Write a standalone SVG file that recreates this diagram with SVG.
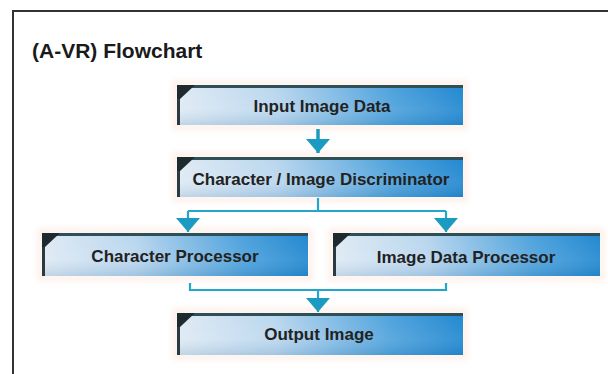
<svg xmlns="http://www.w3.org/2000/svg" width="608" height="374" viewBox="0 0 608 374">
  <defs>
    <linearGradient id="boxfill" x1="0" y1="0" x2="1" y2="0">
      <stop offset="0" stop-color="#dfeaf4"/>
      <stop offset="0.35" stop-color="#b9d6ee"/>
      <stop offset="0.75" stop-color="#4ea2dc"/>
      <stop offset="1" stop-color="#2288d0"/>
    </linearGradient>
    <linearGradient id="shade" x1="0" y1="0" x2="0" y2="1">
      <stop offset="0" stop-color="#ffffff" stop-opacity="0"/>
      <stop offset="0.6" stop-color="#ffffff" stop-opacity="0.08"/>
      <stop offset="1" stop-color="#1b5f96" stop-opacity="0.15"/>
    </linearGradient>
    <filter id="glow" x="-10%" y="-30%" width="120%" height="160%">
      <feGaussianBlur stdDeviation="3"/>
    </filter>
    <marker id="ah" viewBox="0 0 14 24" refX="14" refY="12" markerWidth="14" markerHeight="24" markerUnits="userSpaceOnUse" orient="auto">
      <path d="M0 0 L14 12 L0 24 Z" fill="#1b9bc2"/>
    </marker>
  </defs>
  <style>
    .frame { fill: none; stroke: #333; stroke-width: 2; }
    .title { font-family: "Liberation Sans", Arial, sans-serif; font-weight: bold; font-size: 21px; fill: #1a1a1a; }
    .lbl { font-family: "Liberation Sans", Arial, sans-serif; font-weight: bold; font-size: 17px; fill: #222; text-anchor: middle; }
    .box { fill: url(#boxfill); }
    .shade { fill: url(#shade); }
    .halo { fill: none; stroke: #f6c9b4; stroke-width: 3; opacity: 0.55; filter: url(#glow); }
    .topedge { fill: #2f4f57; }
    .leftedge { fill: #2a3a40; }
    .corner { fill: #1e2a2e; }
    .conn { fill: none; stroke: #22a6cb; stroke-width: 2.2; }
    .stem { fill: none; stroke: #1b9bc2; stroke-width: 3.5; }
  </style>

  <rect class="frame" x="13" y="11" width="620" height="380"/>
  <text class="title" x="32" y="58">(A-VR) Flowchart</text>

  <g id="node-input">
    <rect class="halo" x="175" y="83" width="290" height="44"/>
    <rect class="box" x="177" y="85" width="286" height="40"/>
    <rect class="shade" x="177" y="85" width="286" height="40"/>
    <rect class="topedge" x="177" y="85" width="286" height="3"/>
    <rect class="leftedge" x="177" y="85" width="3" height="40"/>
    <path class="corner" d="M177 85 H195 L180 99 H177 Z"/>
    <text class="lbl" x="322" y="112">Input Image Data</text>
  </g>

  <g id="node-discriminator">
    <rect class="halo" x="175" y="155" width="290" height="44"/>
    <rect class="box" x="177" y="157" width="286" height="40"/>
    <rect class="shade" x="177" y="157" width="286" height="40"/>
    <rect class="topedge" x="177" y="157" width="286" height="3"/>
    <rect class="leftedge" x="177" y="157" width="3" height="40"/>
    <path class="corner" d="M177 157 H195 L180 171 H177 Z"/>
    <text class="lbl" x="321" y="185">Character / Image Discriminator</text>
  </g>

  <g id="node-char">
    <rect class="halo" x="40" y="231" width="270" height="47"/>
    <rect class="box" x="42" y="233" width="266" height="43"/>
    <rect class="shade" x="42" y="233" width="266" height="43"/>
    <rect class="topedge" x="42" y="233" width="266" height="3"/>
    <rect class="leftedge" x="42" y="233" width="3" height="43"/>
    <path class="corner" d="M42 233 H60 L45 247 H42 Z"/>
    <text class="lbl" x="175" y="262">Character Processor</text>
  </g>

  <g id="node-image">
    <rect class="halo" x="331" y="231" width="271" height="47"/>
    <rect class="box" x="333" y="233" width="267" height="43"/>
    <rect class="shade" x="333" y="233" width="267" height="43"/>
    <rect class="topedge" x="333" y="233" width="267" height="3"/>
    <rect class="leftedge" x="333" y="233" width="3" height="43"/>
    <path class="corner" d="M333 233 H351 L336 247 H333 Z"/>
    <text class="lbl" x="466" y="263">Image Data Processor</text>
  </g>

  <g id="node-output">
    <rect class="halo" x="175" y="311" width="290" height="46"/>
    <rect class="box" x="177" y="313" width="286" height="42"/>
    <rect class="shade" x="177" y="313" width="286" height="42"/>
    <rect class="topedge" x="177" y="313" width="286" height="3"/>
    <rect class="leftedge" x="177" y="313" width="3" height="42"/>
    <path class="corner" d="M177 313 H195 L180 327 H177 Z"/>
    <text class="lbl" x="319" y="340">Output Image</text>
  </g>

  <g id="connectors">
    <path class="stem" d="M318 129 V153" marker-end="url(#ah)"/>
    <path class="conn" d="M318 198 V211"/>
    <path class="conn" d="M188 211 H446"/>
    <path class="conn" d="M188 211 V232" marker-end="url(#ah)"/>
    <path class="conn" d="M446 211 V232" marker-end="url(#ah)"/>
    <path class="conn" d="M190 283 V290 H446 V283"/>
    <path class="conn" d="M318 290 V312" marker-end="url(#ah)"/>
  </g>
</svg>
